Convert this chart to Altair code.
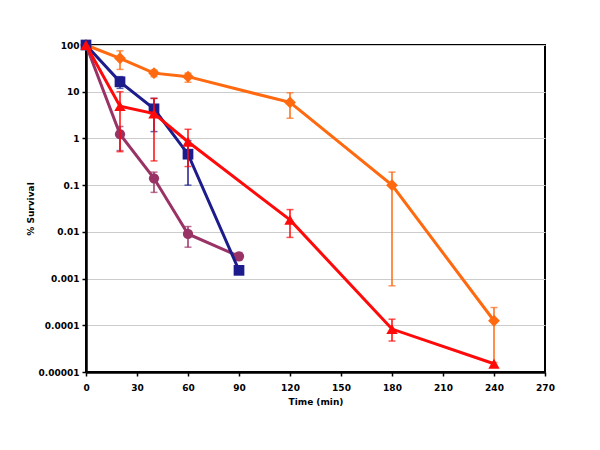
import altair as alt
import pandas as pd

# ---- data ----
series_names = ["orange", "purple", "blue", "red"]

orange_t = [0, 20, 40, 60, 120, 180, 240]
orange_v = [100, 52, 25, 21, 5.9, 0.1, 0.000125]
orange_lo = [None, 30, 21, 16, 2.7, 0.0007, 0.000016]
orange_hi = [None, 75, 29, 25, 9.5, 0.19, 0.00024]

red_t = [0, 20, 40, 60, 120, 180, 240]
red_v = [100, 4.9, 3.4, 0.85, 0.018, 0.000083, 0.000015]
red_lo = [None, 0.52, 0.33, 0.25, 0.0076, 0.000046, None]
red_hi = [None, 10, 7.2, 1.57, 0.03, 0.000135, None]

blue_t = [0, 20, 40, 60, 90]
blue_v = [100, 16.3, 4.3, 0.46, 0.0015]
blue_lo = [None, 11.8, 1.4, 0.1, 0.0013]
blue_hi = [None, 21, 7.2, 0.9, 0.0018]

purple_t = [0, 20, 40, 60, 90]
purple_v = [100, 1.23, 0.14, 0.009, 0.003]
purple_lo = [None, 0.55, 0.07, 0.0047, 0.0025]
purple_hi = [None, 1.8, 0.19, 0.013, 0.0036]

x_ticks = [0, 30, 60, 90, 120, 150, 180, 210, 240, 270]
y_ticks = [0.00001, 0.0001, 0.001, 0.01, 0.1, 1, 10, 100]

colors = {"orange": "#FF6A10", "red": "#FF0A0A", "blue": "#1C1C8C", "purple": "#993366"}
shapes = {"orange": "diamond", "red": "triangle-up", "blue": "square", "purple": "circle"}
sizes = {"orange": 140, "red": 130, "blue": 115, "purple": 105}

data = {
    "orange": (orange_t, orange_v, orange_lo, orange_hi),
    "red": (red_t, red_v, red_lo, red_hi),
    "blue": (blue_t, blue_v, blue_lo, blue_hi),
    "purple": (purple_t, purple_v, purple_lo, purple_hi),
}

xscale = alt.Scale(domain=[0, 270], nice=False, zero=False)
yscale = alt.Scale(type="log", domain=[0.00001, 100], nice=False)

xaxis = alt.Axis(values=x_ticks, title="Time (min)", grid=False, labelFlush=False,
                 tickSize=4, labelPadding=7, titlePadding=5)
yaxis = alt.Axis(values=y_ticks, title="% Survival", format="~f", grid=True, labelFlush=False,
                 tickSize=4, labelPadding=3, titlePadding=3)

layers = []
for name in series_names:
    t, v, lo, hi = data[name]
    df = pd.DataFrame({"t": t, "v": v, "lo": lo, "hi": hi})
    c = colors[name]
    base = alt.Chart(df)
    line = base.mark_line(color=c, strokeWidth=3).encode(
        x=alt.X("t:Q", scale=xscale, axis=xaxis),
        y=alt.Y("v:Q", scale=yscale, axis=yaxis),
    )
    err = base.transform_filter("isValid(datum.lo)").mark_rule(color=c, strokeWidth=1.5).encode(
        x="t:Q", y="lo:Q", y2="hi:Q"
    )
    cap_lo = base.transform_filter("isValid(datum.lo)").mark_tick(
        color=c, orient="horizontal", size=7, thickness=1.5).encode(x="t:Q", y="lo:Q")
    cap_hi = base.transform_filter("isValid(datum.hi)").mark_tick(
        color=c, orient="horizontal", size=7, thickness=1.5).encode(x="t:Q", y="hi:Q")
    pts = base.mark_point(shape=shapes[name], filled=True, opacity=1, color=c,
                          size=sizes[name]).encode(x="t:Q", y="v:Q")
    layers += [line, err, cap_lo, cap_hi, pts]

chart = alt.layer(*layers).properties(
    width=459, height=327,
    autosize=alt.AutoSizeParams(type="none"),
    padding={"left": 78, "top": 37, "right": 40, "bottom": 60},
    background="white",
).configure_view(
    stroke="#000000", strokeWidth=2
).configure_axis(
    labelFont="DejaVu Sans", labelFontWeight="bold", labelFontSize=9, labelColor="#000",
    titleFont="DejaVu Sans", titleFontWeight="bold", titleFontSize=9, titleColor="#000",
    domainColor="#000", domainWidth=2.5, tickColor="#000", tickWidth=1.5,
    gridColor="#CCCCCC", gridWidth=1,
)

chart.save("out.html", embed_options={"renderer": "svg", "actions": False})
